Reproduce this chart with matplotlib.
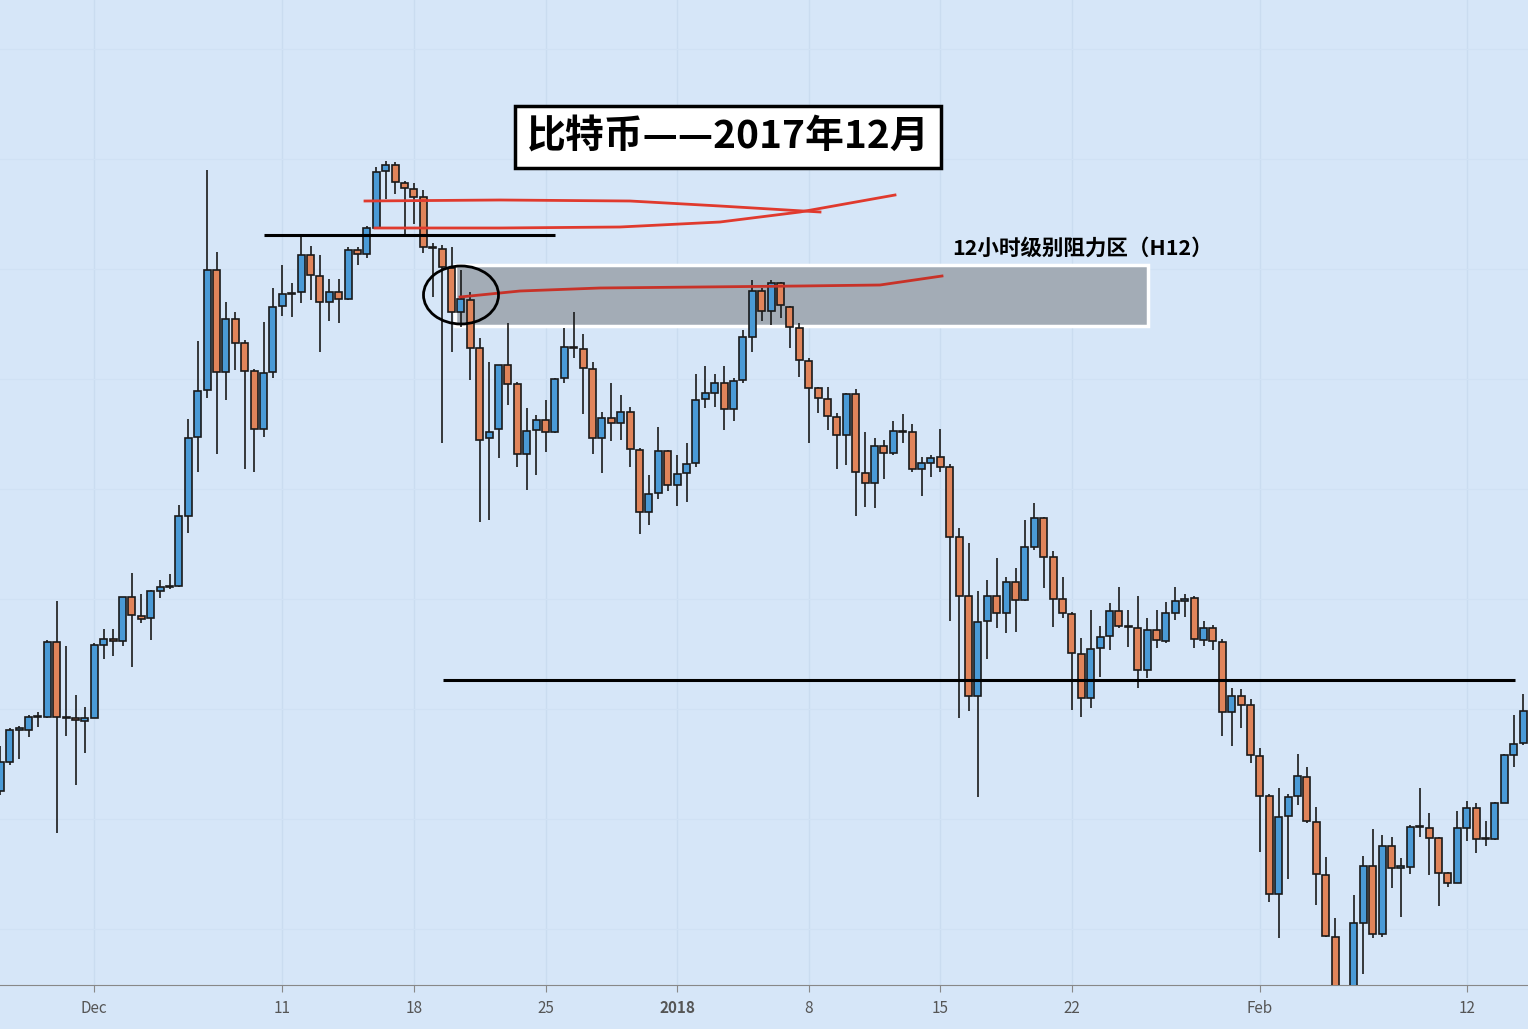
import matplotlib.pyplot as plt
from matplotlib.patches import Rectangle, Ellipse
import numpy as np

plt.rcParams['font.family'] = ['Noto Sans CJK SC', 'DejaVu Sans']

# 12h candles starting 2017-11-26, price in chart points
opens = [238, 267, 299, 299, 312, 312, 387, 312, 311, 308, 311, 384, 390, 388, 432, 413, 411, 438, 442, 443,
         513, 592, 639, 759, 657, 710, 686, 658, 600, 657, 723, 735, 737, 774, 753, 727, 737, 730, 779, 775,
         801, 858, 864, 846, 840, 832, 782, 780, 761, 717, 729, 681, 591, 600, 664, 645, 575, 599, 609, 597,
         651, 682, 680, 660, 591, 611, 606, 617, 579, 517, 536, 578, 544, 556, 566, 630, 636, 646, 620, 649,
         692, 738, 718, 746, 722, 701, 668, 641, 630, 612, 594, 635, 556, 546, 583, 576, 598, 597, 560, 566,
         572, 562, 492, 433, 333, 408, 433, 416, 447, 429, 482, 511, 472, 430, 415, 375, 331, 381, 393, 418,
         403, 401, 359, 399, 388, 416, 428, 431, 389, 401, 387, 317, 333, 324, 273, 233, 135, 213, 233, 252,
         207, 154, 92, 34, 34, 106, 163, 95, 183, 161, 162, 202, 201, 191, 156, 146, 201, 221, 190, 190,
         226, 274, 286]
closes = [267, 299, 301, 312, 313, 387, 312, 311, 309, 311, 384, 390, 388, 432, 414, 410, 438, 442, 443, 513,
          591, 638, 759, 657, 710, 686, 658, 600, 656, 722, 735, 736, 774, 754, 727, 737, 730, 779, 775, 801,
          857, 864, 847, 841, 832, 782, 781, 762, 717, 730, 681, 589, 597, 664, 645, 575, 598, 609, 597, 650,
          682, 681, 661, 591, 611, 606, 617, 580, 517, 535, 578, 544, 555, 565, 629, 636, 646, 620, 648, 692,
          738, 718, 746, 724, 702, 669, 641, 631, 613, 594, 635, 557, 546, 583, 576, 598, 597, 560, 566, 571,
          562, 492, 433, 333, 407, 433, 416, 447, 429, 482, 511, 472, 430, 416, 376, 331, 380, 392, 418, 403,
          402, 359, 399, 389, 416, 428, 430, 390, 401, 388, 317, 333, 324, 274, 233, 135, 212, 232, 253, 208,
          155, 93, 34, 25, 106, 163, 95, 183, 161, 163, 202, 203, 191, 156, 146, 201, 221, 190, 191, 226,
          274, 285, 318]
highs = [283, 301, 303, 314, 317, 389, 428, 383, 334, 322, 386, 400, 400, 432, 456, 435, 439, 449, 455, 524,
         610, 688, 859, 777, 727, 717, 689, 660, 707, 741, 764, 746, 793, 783, 774, 750, 750, 782, 782, 803,
         862, 868, 867, 848, 846, 839, 786, 784, 782, 759, 737, 691, 667, 664, 706, 647, 621, 614, 629, 651,
         701, 717, 695, 667, 617, 646, 634, 622, 581, 554, 602, 579, 574, 586, 655, 663, 655, 663, 651, 699,
         749, 741, 749, 747, 723, 706, 671, 642, 642, 616, 636, 640, 597, 591, 589, 608, 615, 605, 572, 574,
         600, 565, 501, 486, 438, 449, 471, 452, 461, 509, 526, 512, 478, 452, 417, 391, 419, 403, 426, 442,
         419, 433, 411, 419, 427, 442, 435, 433, 408, 404, 390, 341, 340, 330, 281, 235, 241, 235, 275, 262,
         222, 172, 111, 40, 134, 173, 200, 194, 192, 171, 204, 241, 216, 192, 157, 218, 228, 226, 208, 227,
         275, 314, 335]
lows = [234, 264, 270, 292, 302, 311, 196, 293, 244, 276, 311, 370, 373, 383, 362, 406, 389, 431, 440, 442,
        496, 557, 631, 575, 629, 659, 560, 557, 592, 651, 713, 712, 726, 729, 677, 708, 706, 729, 764, 771,
        801, 830, 835, 794, 805, 776, 732, 586, 677, 702, 649, 507, 509, 571, 624, 562, 539, 554, 577, 596,
        646, 671, 615, 575, 556, 588, 589, 562, 495, 504, 530, 538, 523, 527, 562, 621, 622, 599, 608, 646,
        677, 708, 704, 711, 681, 652, 586, 616, 599, 560, 564, 513, 522, 521, 550, 574, 586, 557, 533, 552,
        557, 408, 311, 318, 232, 370, 401, 396, 397, 428, 479, 441, 402, 411, 319, 312, 321, 352, 379, 401,
        382, 341, 351, 381, 386, 409, 412, 381, 383, 379, 293, 283, 301, 266, 177, 127, 91, 150, 224, 206,
        124, 92, 29, 10, 29, 55, 91, 92, 141, 112, 155, 192, 154, 123, 142, 146, 188, 176, 183, 189,
        226, 262, 284]

tick_days = [5, 15, 22, 29, 36, 43, 50, 57, 67, 78]
tick_labels = ['Dec', '11', '18', '25', '2018', '8', '15', '22', 'Feb', '12']
support_level = 349
top_level = 794
zone_low, zone_high = 703, 764

title = '比特币——2017年12月'
zone_label = '12小时级别阻力区（H12）'

up_color = '#4a9ad6'
down_color = '#e0845a'
bg = '#d6e6f8'

fig = plt.figure(figsize=(15.28, 10.29), dpi=100)
fig.patch.set_facecolor(bg)
ax = fig.add_axes([0, 44 / 1029, 1, 985 / 1029])
ax.set_facecolor(bg)

x = np.arange(len(opens)) * 0.5
W = 1528 / 18.8
ax.set_xlim(-0.016, -0.016 + W)
ax.set_ylim(44, 1029)

for d in tick_days:
    ax.axvline(d, color='#cadcf0', lw=1, zorder=0)
for yy in range(100, 1000, 110):
    ax.axhline(yy, color='#d0e1f4', lw=0.8, zorder=0)

for xi, o, c, h, l in zip(x, opens, closes, highs, lows):
    col = up_color if c >= o else down_color
    ax.vlines(xi, l, h, color='#1a1a1a', lw=1.2, zorder=2)
    b = min(o, c)
    ht = max(abs(c - o), 1.5)
    ax.add_patch(Rectangle((xi - 0.19, b), 0.38, ht, facecolor=col,
                           edgecolor='#1a1a1a', lw=1.2, zorder=3))

# annotations (drawn in axes fraction)
def fx(px):
    return px / 1528
def fy(py):
    return 1 - py / 985

ax.hlines(top_level, 264 / 18.8, 555 / 18.8, color='black', lw=2.2, zorder=4)
ax.hlines(support_level, 443 / 18.8, 1515 / 18.8, color='black', lw=2.2, zorder=4)
ax.add_patch(Rectangle((455 / 18.8, zone_low), (1148 - 455) / 18.8, zone_high - zone_low,
                       facecolor='#a3acb6', edgecolor='white', lw=2.5, zorder=1))

red = '#e03a2e'
ax.plot([fx(p) for p in [365, 500, 630, 720, 820]], [fy(p) for p in [201, 200, 201, 206, 212]],
        transform=ax.transAxes, color=red, lw=2, zorder=5)
ax.plot([fx(p) for p in [375, 500, 620, 720, 800, 895]], [fy(p) for p in [228, 228, 227, 222, 212, 195]],
        transform=ax.transAxes, color=red, lw=2, zorder=5)
ax.plot([fx(p) for p in [460, 520, 600, 700, 800, 880, 942]], [fy(p) for p in [297, 291, 288, 287, 286, 285, 276]],
        transform=ax.transAxes, color='#c83228', lw=2, zorder=5)
ax.add_patch(Ellipse((fx(461), fy(295)), 75 / 1528, 58 / 985, transform=ax.transAxes,
                     fill=False, edgecolor='black', lw=2, zorder=6))

ax.text(fx(728), fy(137), title, transform=ax.transAxes, ha='center', va='center',
        fontsize=28, fontweight='bold', style='italic', zorder=7,
        bbox=dict(boxstyle='square,pad=0.3', facecolor='white', edgecolor='black', lw=2.5))
ax.text(fx(952), fy(248), zone_label, transform=ax.transAxes, ha='left', va='center',
        fontsize=15.5, fontweight='bold', style='italic', zorder=7)

ax.set_xticks(tick_days)
ax.set_xticklabels(tick_labels)
for lab in ax.get_xticklabels():
    lab.set_color('#555555')
    lab.set_fontsize(11)
    if lab.get_text() == '2018':
        lab.set_fontweight('bold')
ax.tick_params(axis='x', length=5, color='#888888', pad=6)
ax.set_yticks([])
for s in ['top', 'left', 'right']:
    ax.spines[s].set_visible(False)
ax.spines['bottom'].set_color('#888888')

fig.savefig('out.png', dpi=100, facecolor=bg)
